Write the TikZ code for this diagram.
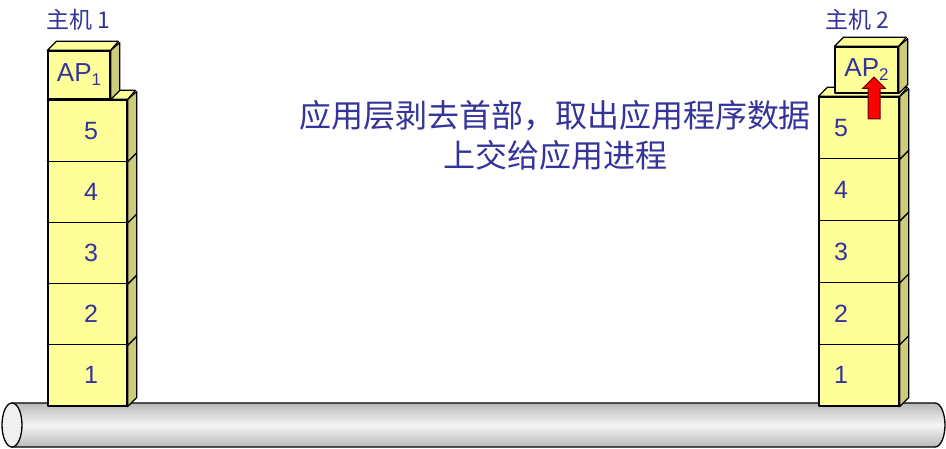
\documentclass[tikz,border=0pt]{standalone}
\usepackage{fontspec}
\setmainfont{Liberation Sans}
\newfontfamily\cjk{Noto Sans CJK SC}
\usetikzlibrary{shapes.arrows}
\definecolor{txtblue}{HTML}{333399}
\definecolor{boxfront}{HTML}{FFFF99}
\definecolor{boxside}{HTML}{CCCC7A}
\newcommand\apsub[1]{\raisebox{-4pt}{\fontsize{17}{17}\selectfont #1}}
\tikzset{
  face/.style={draw, line width=1.3pt, line join=round, fill=boxfront, text=txtblue, inner sep=0pt},
  layer/.style={face, minimum width=79, minimum height=61.2, font=\fontsize{25}{25}\selectfont},
  apbox/.style={face, font=\fontsize{26}{26}\selectfont},
  sideface/.style={draw, line width=1.3pt, line join=round, fill=boxside},
  topface/.style={draw, line width=1.3pt, line join=round, fill=boxfront},
  hostlabel/.style={text=txtblue, font=\cjk\fontsize{23}{23}\selectfont},
  note/.style={text=txtblue, font=\cjk\fontsize{32}{32}\selectfont}
}
\begin{document}
\begin{tikzpicture}[x=1pt,y=-1pt]
\useasboundingbox (0,0) rectangle (946,449);

% the cable
\draw[line width=1.3pt, top color=gray!55, bottom color=gray!55, middle color=gray!8]
  (12,403) -- (935,403) arc[start angle=-90, end angle=90, x radius=10, y radius=22] -- (12,447) -- cycle;
\draw[line width=1.3pt, fill=gray!12] (12,425) ellipse [x radius=10, y radius=22];

% host 1
\foreach \i in {1,...,5}{
  \node[layer] (a\i) at (87.5,{406-(\i-0.5)*61.2}) {\hspace*{7pt}\i};
  \draw[sideface] (a\i.south east) -- ++(9,-9) -- ++(0,-61.2) -- (a\i.north east) -- cycle;
  \draw[topface] (a\i.north west) -- ++(9,-9) -- ++(79,0) -- (a\i.north east) -- cycle;
}
\node[apbox, minimum width=62, minimum height=48] (ap1) at (79,75) {AP\apsub{1}};
\draw[sideface] (ap1.south east) -- ++(9,-9) -- ++(0,-48) -- (ap1.north east) -- cycle;
\draw[topface] (ap1.north west) -- ++(9,-9) -- ++(62,0) -- (ap1.north east) -- cycle;
\node[hostlabel] (h1) at (78,20) {主机 1};

% host 2
\foreach \i in {1,...,5}{
  \node[layer, minimum width=80, minimum height=61.8, text width=50, align=left] (b\i) at (859,{406-(\i-0.5)*61.8}) {\i};
  \draw[sideface] (b\i.south east) -- ++(9,-9) -- ++(0,-61.8) -- (b\i.north east) -- cycle;
  \draw[topface] (b\i.north west) -- ++(9,-9) -- ++(80,0) -- (b\i.north east) -- cycle;
}
\node[apbox, minimum width=63, minimum height=46] (ap2) at (866.5,70) {AP\apsub{2}};
\draw[sideface] (ap2.south east) -- ++(9,-9) -- ++(0,-46) -- (ap2.north east) -- cycle;
\draw[topface] (ap2.north west) -- ++(9,-9) -- ++(63,0) -- (ap2.north east) -- cycle;
\node[hostlabel] (h2) at (857,20) {主机 2};

% delivery upward
\node[single arrow, draw=red!40!black, line width=1pt, fill=red, rotate=90,
  minimum height=42, inner sep=5.5pt, single arrow head extend=5.5pt] (up) at (874,101) {};

\node[note] (n1) at (555,116) {应用层剥去首部，取出应用程序数据};
\node[note] (n2) at (555,155) {上交给应用进程};
\end{tikzpicture}
\end{document}
